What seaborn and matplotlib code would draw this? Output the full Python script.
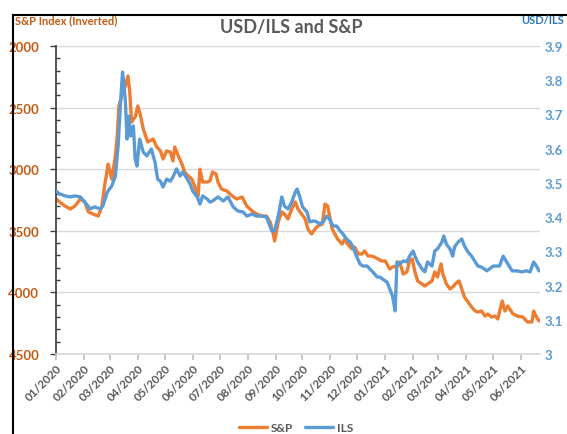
import matplotlib

matplotlib.use("Agg")
import matplotlib.dates as mdates
import matplotlib.pyplot as plt
import pandas as pd
import seaborn as sns
from matplotlib.lines import Line2D
from matplotlib.patches import Rectangle
from matplotlib.ticker import MultipleLocator

# ---------------------------------------------------------------------------
# Data (days counted from 2020-01-01)
# ---------------------------------------------------------------------------
START = pd.Timestamp("2020-01-01")

sp_day = [0, 4, 10, 16, 21, 27, 32, 36, 41, 47, 51, 54, 58, 60, 62, 66, 68, 70,
          73, 77, 80, 82, 84, 88, 91, 94, 97, 102, 108, 112, 116, 119, 123, 127,
          130, 132, 136, 140, 143, 147, 151, 154, 158, 160, 163, 168, 171, 174,
          178, 180, 184, 190, 196, 201, 207, 212, 218, 223, 229, 234, 238, 241,
          243, 247, 251, 254, 258, 262, 266, 269, 273, 277, 280, 284, 288, 291,
          296, 299, 302, 307, 310, 313, 318, 321, 324, 329, 332, 336, 340, 343,
          347, 351, 354, 358, 362, 366, 371, 374, 379, 382, 386, 390, 393, 396,
          399, 402, 407, 410, 413, 418, 421, 424, 428, 430, 434, 438, 441, 446,
          448, 451, 454, 458, 462, 466, 469, 473, 477, 480, 484, 488, 491, 496,
          499, 502, 508, 513, 519, 524, 529, 531, 534, 537]
sp_value = [3242, 3266, 3299, 3323, 3299, 3242, 3266, 3347, 3364, 3380, 3299,
            3136, 2958, 3023, 3080, 2893, 2739, 2487, 2406, 2325, 2243, 2373,
            2617, 2576, 2487, 2568, 2674, 2779, 2755, 2820, 2850, 2917, 2852,
            2860, 2933, 2820, 2893, 2958, 3023, 3055, 3080, 3136, 3218, 3000,
            3104, 3104, 3096, 3023, 3039, 3104, 3161, 3177, 3218, 3242, 3226,
            3299, 3339, 3364, 3380, 3380, 3429, 3510, 3583, 3429, 3347, 3364,
            3404, 3323, 3266, 3323, 3364, 3404, 3485, 3526, 3485, 3461, 3445,
            3283, 3299, 3485, 3526, 3567, 3607, 3567, 3607, 3648, 3632, 3688,
            3688, 3664, 3705, 3705, 3713, 3729, 3745, 3745, 3810, 3794, 3786,
            3753, 3851, 3834, 3745, 3729, 3834, 3907, 3932, 3948, 3932, 3907,
            3834, 3875, 3769, 3851, 3932, 3972, 3956, 3916, 3907, 3972, 4037,
            4078, 4119, 4151, 4159, 4151, 4192, 4175, 4200, 4192, 4216, 4070,
            4151, 4110, 4175, 4192, 4200, 4240, 4240, 4151, 4200, 4232]

ils_day = [0, 4, 10, 16, 21, 27, 32, 38, 43, 49, 52, 57, 62, 66, 69, 72, 74, 77,
           79, 81, 83, 86, 88, 90, 93, 97, 101, 106, 110, 113, 116, 119, 123,
           127, 130, 134, 138, 141, 146, 149, 152, 157, 160, 163, 168, 171, 174,
           180, 186, 191, 197, 202, 208, 212, 218, 223, 229, 234, 240, 243, 247,
           251, 254, 258, 262, 266, 268, 271, 274, 279, 282, 286, 290, 293, 297,
           301, 304, 308, 312, 316, 319, 323, 327, 330, 334, 338, 341, 346, 349,
           352, 357, 360, 363, 368, 371, 374, 377, 379, 382, 386, 390, 393, 397,
           399, 402, 407, 410, 413, 418, 421, 424, 429, 431, 434, 438, 441, 443,
           447, 451, 454, 458, 462, 466, 469, 473, 479, 486, 493, 497, 501, 507,
           512, 518, 523, 527, 531, 534, 537]
ils_value = [3.476, 3.468, 3.462, 3.459, 3.462, 3.459, 3.444, 3.424, 3.430,
             3.424, 3.432, 3.473, 3.491, 3.520, 3.608, 3.745, 3.824, 3.745,
             3.628, 3.695, 3.637, 3.666, 3.570, 3.549, 3.628, 3.590, 3.579,
             3.599, 3.561, 3.511, 3.505, 3.488, 3.511, 3.505, 3.517, 3.541,
             3.520, 3.532, 3.511, 3.497, 3.476, 3.459, 3.438, 3.462, 3.453,
             3.444, 3.447, 3.459, 3.447, 3.459, 3.430, 3.418, 3.415, 3.403,
             3.409, 3.403, 3.403, 3.400, 3.359, 3.360, 3.403, 3.459, 3.432,
             3.424, 3.444, 3.473, 3.482, 3.459, 3.430, 3.415, 3.386, 3.389,
             3.386, 3.380, 3.386, 3.403, 3.394, 3.374, 3.374, 3.359, 3.351,
             3.336, 3.327, 3.313, 3.286, 3.263, 3.257, 3.257, 3.248, 3.240,
             3.225, 3.225, 3.219, 3.210, 3.190, 3.170, 3.126, 3.269, 3.263,
             3.272, 3.269, 3.286, 3.301, 3.286, 3.269, 3.248, 3.240, 3.269,
             3.257, 3.301, 3.307, 3.327, 3.345, 3.321, 3.307, 3.286, 3.313,
             3.327, 3.336, 3.316, 3.298, 3.286, 3.269, 3.257, 3.254, 3.243,
             3.257, 3.257, 3.286, 3.269, 3.243, 3.243, 3.240, 3.243, 3.240,
             3.269, 3.257, 3.243]

ils_ticks = [3.0, 3.1, 3.2, 3.3, 3.4, 3.5, 3.6, 3.7, 3.8, 3.9]
ils_tick_labels = ["3", "3.1", "3.2", "3.3", "3.4", "3.5", "3.6", "3.7", "3.8",
                   "3.9"]

ORANGE = "#ED7D31"
BLUE = "#5B9BD5"
ORANGE_TEXT = "#C55A11"
BLUE_TEXT = "#2E75B6"
GREY_TEXT = "#595959"

sns.set_theme(style="white")
plt.rcParams["font.family"] = ["Lato", "DejaVu Sans"]

sp = pd.DataFrame({"date": START + pd.to_timedelta(sp_day, unit="D"),
                   "value": sp_value})
ils = pd.DataFrame({"date": START + pd.to_timedelta(ils_day, unit="D"),
                    "value": ils_value})

fig = plt.figure(figsize=(5.67, 4.35), dpi=100)
ax = fig.add_axes([56 / 567, 1 - 355 / 435, 484 / 567, 308 / 435])
ax2 = ax.twinx()

sns.lineplot(data=sp, x="date", y="value", ax=ax, color=ORANGE, linewidth=2.4)
sns.lineplot(data=ils, x="date", y="value", ax=ax2, color=BLUE, linewidth=2.4)

# left axis: inverted S&P
ax.set_ylim(4500, 2000)
ax.yaxis.set_major_locator(MultipleLocator(500))
ax.yaxis.set_minor_locator(MultipleLocator(100))
ax.tick_params(axis="y", which="major", direction="out", length=4, width=1,
               color="#404040", labelsize=9.5, labelcolor=ORANGE_TEXT, pad=8)
ax.tick_params(axis="y", which="minor", direction="in", length=3, width=1,
               color="#404040", left=True)
for lab in ax.get_yticklabels():
    lab.set_fontweight("bold")
ax.yaxis.grid(True, which="major", color="#D9D9D9", linewidth=1)
ax.set_axisbelow(True)

# x axis: monthly dates
ax.set_xlim(START, START + pd.Timedelta(days=538))
ax.xaxis.set_major_locator(mdates.MonthLocator())
ax.xaxis.set_major_formatter(mdates.DateFormatter("%m/%Y"))
ax.tick_params(axis="x", direction="out", length=4, color="#BFBFBF",
               labelsize=8.5, labelcolor=GREY_TEXT, pad=2, bottom=True)
plt.setp(ax.get_xticklabels(), rotation=45, ha="right", rotation_mode="anchor",
         fontweight="bold")

ax.set_xlabel("")
ax.set_ylabel("")
ax2.set_ylabel("")

# right axis: USD/ILS
ax2.set_ylim(3.0, 3.9)
ax2.set_yticks(ils_ticks)
ax2.set_yticklabels(ils_tick_labels, fontweight="bold")
ax2.tick_params(axis="y", length=0, labelsize=9.5, labelcolor=BLUE, pad=3)

for name, spine in ax.spines.items():
    spine.set_visible(name in ("left", "bottom"))
ax.spines["left"].set_color("#404040")
ax.spines["bottom"].set_color("#D9D9D9")
for spine in ax2.spines.values():
    spine.set_visible(False)

# titles and axis captions
fig.text(291 / 567, 1 - 28 / 435, "USD/ILS and S&P", ha="center", va="center",
         fontsize=13, fontweight="bold", color=GREY_TEXT)
fig.text(15 / 567, 1 - 21 / 435, "S&P Index (Inverted)", ha="left",
         va="center", fontsize=8, fontweight="bold", color=ORANGE_TEXT)
fig.text(564 / 567, 1 - 21 / 435, "USD/ILS", ha="right", va="center",
         fontsize=8, fontweight="bold", color=BLUE_TEXT)

handles = [Line2D([], [], color=ORANGE, linewidth=2.4),
           Line2D([], [], color=BLUE, linewidth=2.4)]
leg = fig.legend(handles, ["S&P", "ILS"], loc="center", ncol=2,
                 bbox_to_anchor=(296 / 567, 1 - 429 / 435), frameon=False,
                 fontsize=8.5, handlelength=2.4, columnspacing=1.0,
                 handletextpad=0.3, labelcolor=GREY_TEXT)
for txt in leg.get_texts():
    txt.set_fontweight("bold")

# chart-area frame, cut off on the right and bottom like the reference
fig.add_artist(Rectangle((13 / 567, -0.1), 1.0, 1.1 - 16 / 435,
                         transform=fig.transFigure, fill=False,
                         edgecolor="black", linewidth=1.5))

fig.savefig("out.png", dpi=100)
plt.close(fig)
